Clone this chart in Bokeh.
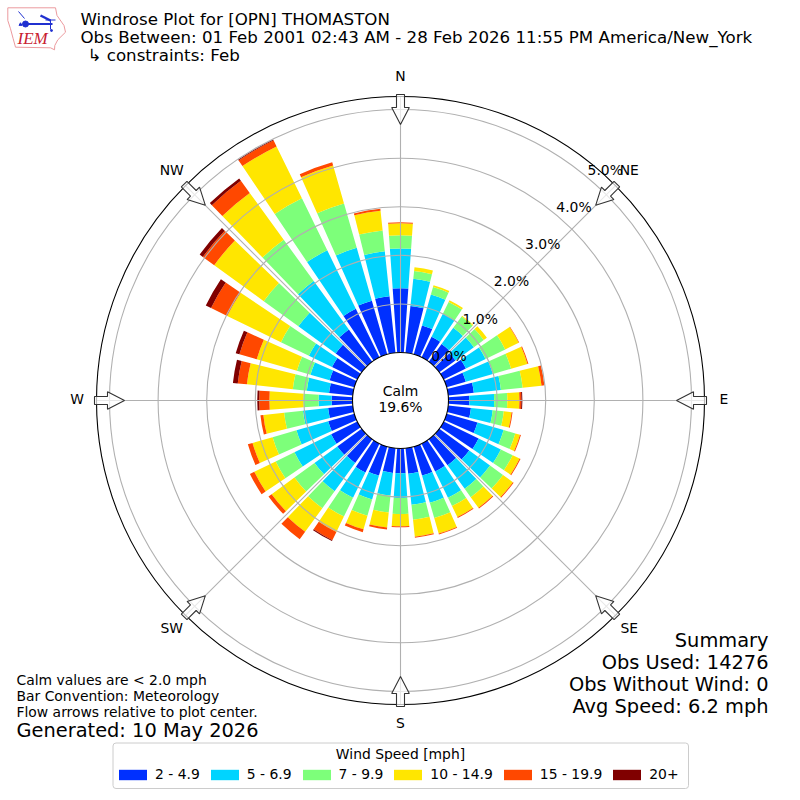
import numpy as np
from bokeh.plotting import figure
from bokeh.models import Range1d, Legend, LegendItem
from bokeh.core.properties import value
from bokeh.embed import file_html
from bokeh.resources import INLINE

# ---- data ----
directions = list(range(0, 360, 10))
speed_labels = ["2 - 4.9", "5 - 6.9", "7 - 9.9", "10 - 14.9", "15 - 19.9", "20+"]
speed_colors = ["#0030ff", "#00d4ff", "#7dff7a", "#ffe600", "#ff4800", "#800000"]
s_2_5 = [1.32, .97, .62, .47, .45, .41, .51, .41, .53, .43, .47, .66, .80, .76, .66, .64, .62, .53,
         .51, .51, .62, .66, .60, .62, .60, .56, .51, .43, .49, .53, .58, .66, .82, 1.11, 1.15, 1.17]
s_5_7 = [.82, .56, .66, .53, .41, .47, .45, .58, .56, .51, .45, .56, .51, .53, .60, .60, .58, .64,
         .51, .47, .51, .58, .72, .58, .84, .68, .52, .27, .46, .41, .53, .95, 1.23, 1.34, 1.13, .93]
s_7_10 = [.27, .16, .16, .27, .29, .25, .45, .39, .45, .27, .23, .25, .27, .33, .21, .19, .33, .31,
          .33, .35, .35, .43, .43, .51, .43, .51, .39, .31, .29, .29, .64, .88, 1.05, 1.19, .95, .43]
s_10_15 = [.25, .08, .04, .04, .02, .08, .31, .35, .39, .25, .16, .10, .16, .25, .27, .25, .33, .35,
           .25, .31, .29, .35, .60, .58, .49, .43, .43, .70, .95, .86, 1.23, 1.26, 1.19, 1.19, .81, .41]
s_15_20 = [.02, 0, 0, 0, 0, 0, .01, .02, .06, .04, .02, .02, .02, .02, .02, .02, .02, .02,
           .02, .04, .06, .19, .19, .08, .10, .10, .06, .21, .19, .37, .37, .29, .31, .14, .07, .04]
s_20 = [0, 0, 0, 0, 0, 0, 0, 0, 0, .02, 0, 0, 0, 0, 0, 0, 0, 0,
        0, 0, 0, .02, 0, 0, 0, 0, 0, .04, .10, .08, .12, .08, .06, .02, 0, 0]
series = [s_2_5, s_5_7, s_7_10, s_10_15, s_15_20, s_20]
ring_values = [1, 2, 3, 4, 5]
tick_values = [0, 1, 2, 3, 4, 5]
compass = {"N": 0, "NE": 45, "E": 90, "SE": 135, "S": 180, "SW": 225, "W": 270, "NW": 315}

# ---- geometry ----
W = 800
PXU = 48.6            # pixels per 1 percent
HOLE = 48 / PXU       # radial offset of the 0 percent ring
OUTER = 304 / PXU
half = (W / 2) / PXU


def fx(x):            # page pixel -> data
    return (x - 400) / PXU


def fy(y):
    return (400 - y) / PXU


def rad(d):           # compass degrees -> math radians
    return np.deg2rad(90 - np.asarray(d, dtype=float))


p = figure(width=W, height=W, output_backend="svg", toolbar_location=None,
           x_range=Range1d(-half, half), y_range=Range1d(-half, half),
           min_border=0, outline_line_color=None)
p.axis.visible = False
p.grid.visible = False
p.background_fill_color = "white"

# ---- bars ----
base = np.zeros(len(directions))
items = []
bar_half = 4.0
for vals, col, lab in zip(series, speed_colors, speed_labels):
    vals = np.array(vals)
    r = p.annular_wedge(x=0, y=0,
                        inner_radius=HOLE + base, outer_radius=HOLE + base + vals,
                        start_angle=rad(np.array(directions) + bar_half),
                        end_angle=rad(np.array(directions) - bar_half),
                        fill_color=col, line_color=None)
    items.append(LegendItem(label=lab, renderers=[r]))
    base = base + vals

# ---- polar grid ----
GRID = "#b0b0b0"
p.circle(x=[0] * len(ring_values), y=[0] * len(ring_values),
         radius=[HOLE + v for v in ring_values],
         fill_color=None, line_color=GRID, line_width=1.1)
gx, gy = [], []
for name, d in compass.items():
    a = rad(d)
    gx.append([HOLE * np.cos(a), OUTER * np.cos(a)])
    gy.append([HOLE * np.sin(a), OUTER * np.sin(a)])
p.multi_line(gx, gy, line_color=GRID, line_width=1.1)

# ---- frame ----
p.circle(x=[0], y=[0], radius=[OUTER], fill_color=None, line_color="black", line_width=1.1)
p.circle(x=[0], y=[0], radius=[HOLE], fill_color="white", line_color="black", line_width=1.1)

# ---- flow arrows ----
for name, d in compass.items():
    a = rad(d)
    ux, uy = np.cos(a), np.sin(a)
    nx, ny = -uy, ux
    shape = [(306, 4), (293, 4), (293, 8.8), (276, 0), (293, -8.8), (293, -4), (306, -4)]
    xs = [(rr * ux + w * nx) / PXU for rr, w in shape]
    ys = [(rr * uy + w * ny) / PXU for rr, w in shape]
    p.patch(xs, ys, fill_color="white", fill_alpha=0.7, line_color="#333333", line_width=1.1)
    p.text([323.5 / PXU * ux], [323.5 / PXU * uy + 1.5 / PXU], text=[name], text_align="center",
           text_baseline="middle", text_font=value("DejaVu Sans"),
           text_font_size="13.9px", text_color="black")

# ---- radial tick labels ----
la = np.deg2rad(50)
for v in tick_values:
    rr = HOLE + v
    p.text([rr * np.cos(la)], [rr * np.sin(la)], text=[f"{v:.1f}%"], text_align="left",
           text_baseline="bottom", text_font=value("DejaVu Sans"),
           text_font_size="13.9px", text_color="black")


def label(x, y, s, size, align="left", font="DejaVu Sans", color="black", style="normal"):
    p.text([fx(x)], [fy(y)], text=[s], text_align=align, text_baseline="alphabetic",
           text_font=value(font), text_font_size=size, text_color=color, text_font_style=style)


# ---- centre, titles, notes ----
label(400, 390, "Calm", "13.9px", "center")
label(400, 406, "19.6%", "13.9px", "center")
label(80, 19, "Windrose Plot for [OPN] THOMASTON", "16.67px")
label(80, 37, "Obs Between: 01 Feb 2001 02:43 AM - 28 Feb 2026 11:55 PM America/New_York", "16.67px")
label(87, 55, "\u21b3 constraints: Feb", "16.67px")
label(768, 640, "Summary", "19.4px", "right")
label(768, 662, "Obs Used: 14276", "19.4px", "right")
label(768, 684, "Obs Without Wind: 0", "19.4px", "right")
label(768, 706, "Avg Speed: 6.2 mph", "19.4px", "right")
label(16, 679, "Calm values are < 2.0 mph", "13.9px")
label(16, 695, "Bar Convention: Meteorology", "13.9px")
label(16, 711, "Flow arrows relative to plot center.", "13.9px")
label(16, 730, "Generated: 10 May 2026", "19.4px")

# ---- logo ----
iowa_x = [7.3, 55, 56.5, 63.5, 65, 57.3, 54.3, 54, 50, 15, 12.7, 10, 7.3, 7.3]
iowa_y = [7.3, 7.3, 15, 25, 31.7, 39.3, 45, 49.3, 47.3, 46.7, 38.3, 28.3, 20, 7.3]
p.line([fx(v) for v in iowa_x], [fy(v) for v in iowa_y], line_color="#ec9a9e", line_width=1)
BL = "#2030d0"
p.line([fx(25), fx(52)], [fy(23.5), fy(23.5)], line_color=BL, line_width=2)
p.line([fx(45), fx(55)], [fy(19.5), fy(19.5)], line_color=BL, line_width=1)
p.line([fx(50), fx(50)], [fy(19.5), fy(29)], line_color=BL, line_width=1)
p.line([fx(40), fx(50)], [fy(15), fy(20)], line_color=BL, line_width=2.5)
p.line([fx(18), fx(24)], [fy(11), fy(18)], line_color=BL, line_width=1)
p.scatter([fx(25)], [fy(23.5)], size=6, marker="circle", fill_color=BL, line_color=BL)
p.scatter([fx(20)], [fy(24)], size=3, marker="triangle", fill_color=BL, line_color=BL)
p.scatter([fx(51)], [fy(30)], size=2, marker="circle", fill_color=BL, line_color=BL)
label(17, 38, "IEM", "17px", font="Liberation Serif", color="#c82030", style="italic")

# ---- legend ----
p.quad(left=[fx(112.5)], right=[fx(688)], top=[fy(742.5)], bottom=[fy(788)],
       fill_color="white", line_color="#cccccc", line_width=1, border_radius=3)
label(400, 753, "Wind Speed [mph]", "13.9px", "center")
legend = Legend(items=items, orientation="horizontal", location=(115, 18),
                label_text_font="DejaVu Sans", label_text_font_size="13.9px",
                label_text_color="black", glyph_width=35, glyph_height=13,
                label_standoff=5, spacing=7, padding=3, margin=0,
                border_line_color=None, background_fill_alpha=0)
p.add_layout(legend, "center")

open("out.html", "w").write(file_html(p, INLINE))
